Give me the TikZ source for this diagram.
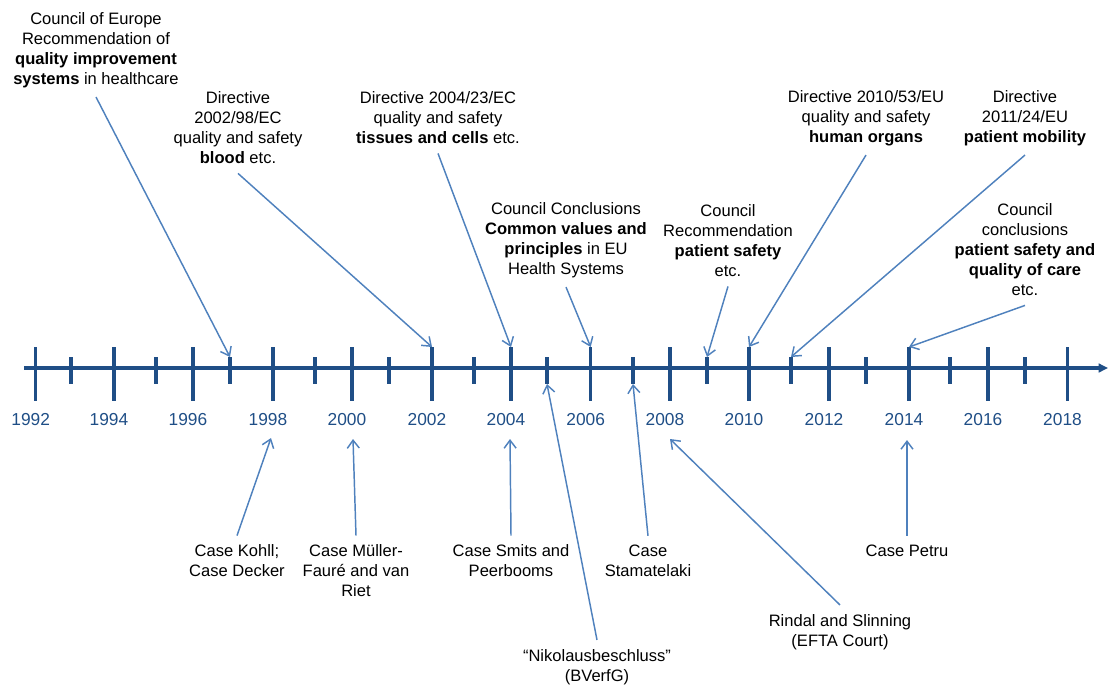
\documentclass[tikz,border=0pt]{standalone}
\usepackage{fontspec}
\setmainfont{Liberation Sans}
\usetikzlibrary{arrows.meta}
\definecolor{axisblue}{RGB}{31,78,134}
\definecolor{arrowblue}{RGB}{79,129,189}
\begin{document}
\begin{tikzpicture}[x=0.75pt, y=-0.75pt,
    txt/.style={align=center, font=\fontsize{12.4}{15}\selectfont, inner sep=3pt, outer sep=4pt},
    year/.style={font=\fontsize{13}{15}\selectfont, text=axisblue, inner sep=2pt},
    tick/.style={draw=axisblue, line width=2.3pt},
    conn/.style={draw=arrowblue, line width=1.1pt, -{Straight Barb[length=6pt, width=9pt]}}]
    \useasboundingbox (0,0) rectangle (1108,687);

    % Axis
    \draw[tick, -{Triangle[length=7pt, width=6.5pt]}] (24,368) -- (1108,368);
    \foreach \yr/\x in {1992/35.7, 1993/71, 1994/114, 1995/156, 1996/193, 1997/230,
        1998/273, 1999/315, 2000/352, 2001/389, 2002/432, 2003/474, 2004/511,
        2005/547, 2006/590.7, 2007/633, 2008/670, 2009/707, 2010/749, 2011/791,
        2012/829, 2013/866, 2014/909, 2015/950, 2016/988, 2017/1025, 2018/1067.5}{
      \ifodd\yr
        \draw[tick] (\x,357) coordinate (top\yr) -- (\x,384) coordinate (bot\yr);
      \else
        \draw[tick] (\x,347) coordinate (top\yr) -- (\x,401) coordinate (bot\yr);
        \node[year] (lab\yr) at (\x-5,420) {\yr};
      \fi
    }

    % Nodes above the axis
    \node[txt] (coe) at (96,50) {Council of Europe\\Recommendation of\\\textbf{quality improvement}\\\textbf{systems} in healthcare};
    \node[txt] (d98) at (238,128) {Directive\\2002/98/EC\\quality and safety\\\textbf{blood} etc.};
    \node[txt] (d23) at (438,118) {Directive 2004/23/EC\\quality and safety\\\textbf{tissues and cells} etc.};
    \node[txt] (ccv) at (566,240) {Council Conclusions\\\textbf{Common values and}\\\textbf{principles} in EU\\Health Systems};
    \node[txt] (crp) at (728,241) {Council\\Recommendation\\\textbf{patient safety}\\etc.};
    \node[txt] (d53) at (866,118) {Directive 2010/53/EU\\quality and safety\\\textbf{human organs}};
    \node[txt] (d24) at (1025,118) {Directive\\2011/24/EU\\\textbf{patient mobility}};
    \node[txt] (ccq) at (1025,250) {Council\\conclusions\\\textbf{patient safety and}\\\textbf{quality of care}\\etc.};

    % Nodes below the axis
    \node[txt] (kohll) at (237,561) {Case Kohll;\\Case Decker};
    \node[txt] (muller) at (356,571) {Case Müller-\\Fauré and van\\Riet};
    \node[txt] (smits) at (511,561) {Case Smits and\\Peerbooms};
    \node[txt] (nikol) at (597,667) {“Nikolausbeschluss”\\(BVerfG)};
    \node[txt] (stam) at (648,561) {Case\\Stamatelaki};
    \node[txt] (rindal) at (840,632) {Rindal and Slinning\\(EFTA Court)};
    \node[txt] (petru) at (907,551) {Case Petru};

    % Free ends below the year labels
    \coordinate (k98) at (271,438);
    \coordinate (m00) at (353,439);
    \coordinate (s04) at (510,439);
    \coordinate (r08) at (670,439);
    \coordinate (p14) at (907,440);

    % Connectors from above
    \draw[conn] (coe.south) -- (top1997);
    \draw[conn] (d98.south) -- (top2002);
    \draw[conn] (d23.south) -- (top2004);
    \draw[conn] (ccv.south) -- (top2006);
    \draw[conn] (crp.south) -- (top2009);
    \draw[conn] (d53.south) -- (top2010);
    \draw[conn] (d24.south) -- (top2011);
    \draw[conn] (ccq.south) -- (top2014);

    % Connectors from below
    \draw[conn] (kohll.north) -- (k98);
    \draw[conn] (muller.north) -- (m00);
    \draw[conn] (smits.north) -- (s04);
    \draw[conn] (nikol.north) -- (bot2005);
    \draw[conn] (stam.north) -- (bot2007);
    \draw[conn] (rindal.north) -- (r08);
    \draw[conn] (petru.north) -- (p14);
\end{tikzpicture}
\end{document}
